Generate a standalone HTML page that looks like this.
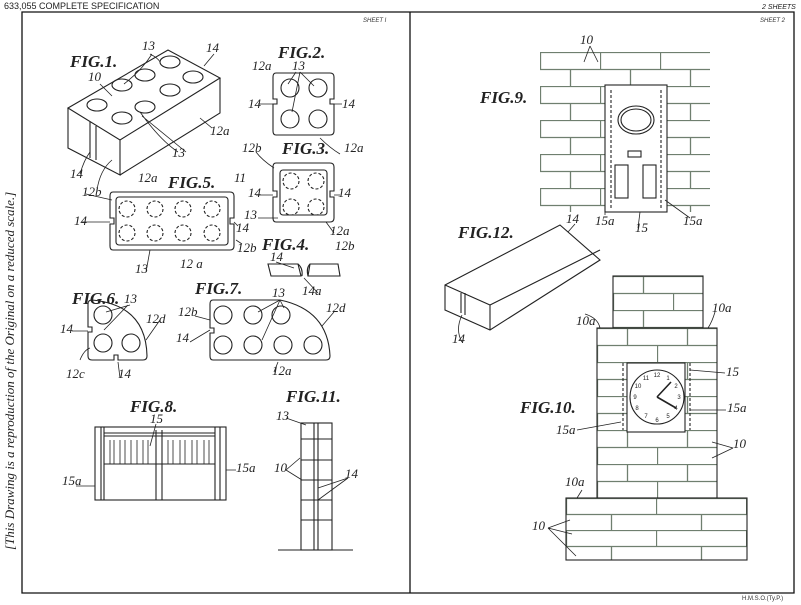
<!DOCTYPE html>
<html><head><meta charset="utf-8"><style>
html,body{margin:0;padding:0;background:#fff;}
svg{display:block}
.l{font-family:"Liberation Serif",serif;font-style:italic;font-size:13px;fill:#222}
.f{font-family:"Liberation Serif",serif;font-style:italic;font-weight:bold;font-size:17px;fill:#222}
</style></head><body>
<svg width="801" height="605" viewBox="0 0 801 605" xmlns="http://www.w3.org/2000/svg">
<defs>
<pattern id="br" x="540" y="52" width="60" height="34" patternUnits="userSpaceOnUse">
<path d="M0 0.5H60M0 17.5H60M0.5 0V17M30.5 17V34" stroke="#6f7f6f" stroke-width="1.3" fill="none"/>
</pattern>
<pattern id="brt" x="613" y="276" width="60" height="34" patternUnits="userSpaceOnUse">
<path d="M0 0.5H60M0 17.5H60M30.5 0V17M0.5 17V34" stroke="#6f7f6f" stroke-width="1.3" fill="none"/>
</pattern>
<pattern id="br2" x="597" y="328" width="60" height="34" patternUnits="userSpaceOnUse">
<path d="M0 0.5H60M0 17.5H60M30.5 0V17M0.5 17V34" stroke="#6f7f6f" stroke-width="1.3" fill="none"/>
</pattern>
<pattern id="br3" x="566" y="498" width="90" height="32" patternUnits="userSpaceOnUse">
<path d="M0 0.5H90M0 16.5H90M0.5 0V16M45.5 16V32" stroke="#6f7f6f" stroke-width="1.3" fill="none"/>
</pattern>
</defs>
<rect width="801" height="605" fill="#fff"/>
<text x="4" y="9" font-family="Liberation Sans,sans-serif" font-size="9" fill="#222">633,055   COMPLETE  SPECIFICATION</text>
<text x="762" y="9" font-family="Liberation Sans,sans-serif" font-size="7" fill="#222" font-style="italic">2 SHEETS</text>
<g fill="none" stroke="#111" stroke-width="1.3">
<path d="M22 12H794V593H22Z"/><path d="M410 12V593"/>
</g>
<text x="363" y="22" font-family="Liberation Sans,sans-serif" font-size="6" font-style="italic" fill="#333">SHEET I</text>
<text x="760" y="22" font-family="Liberation Sans,sans-serif" font-size="6" font-style="italic" fill="#333">SHEET 2</text>
<text x="742" y="600" font-family="Liberation Sans,sans-serif" font-size="6" fill="#333">H.M.S.O.(Ty.P.)</text>
<text transform="translate(14,550) rotate(-90)" class="l" font-size="12">[This Drawing is a reproduction of the Original on a reduced scale.]</text>

<g fill="none" stroke="#222" stroke-width="1.1">
<!-- Fig1 -->
<path d="M68 108L168 50L220 78L120 140Z"/>
<path d="M68 108V148L120 175V140M120 175L220 113V78"/>
<path d="M90 122V158M96 126V160"/>
<ellipse cx="97" cy="105" rx="10" ry="6"/><ellipse cx="122" cy="118" rx="10" ry="6"/>
<ellipse cx="122" cy="85" rx="10" ry="6"/><ellipse cx="145" cy="107" rx="10" ry="6"/>
<ellipse cx="145" cy="75" rx="10" ry="6"/><ellipse cx="170" cy="90" rx="10" ry="6"/>
<ellipse cx="170" cy="62" rx="10" ry="6"/><ellipse cx="193" cy="77" rx="10" ry="6"/>
<!-- Fig2 -->
<path d="M276 73H330Q334 73 334 77V99H330V104H334V131Q334 135 330 135H276Q273 135 273 131V104H277V99H273V77Q273 73 276 73Z"/>
<circle cx="290" cy="88" r="9"/><circle cx="318" cy="88" r="9"/><circle cx="290" cy="119" r="9"/><circle cx="318" cy="119" r="9"/>
<!-- Fig3 -->
<path d="M276 163H330Q334 163 334 167V191H330V197H334V218Q334 222 330 222H276Q273 222 273 218V197H277V191H273V167Q273 163 276 163Z"/>
<rect x="280" y="170" width="47" height="45" rx="3"/>
<g stroke-dasharray="3 2"><circle cx="291" cy="181" r="8"/><circle cx="316" cy="181" r="8"/><circle cx="291" cy="207" r="8"/><circle cx="316" cy="207" r="8"/></g>
<!-- Fig5 -->
<path d="M113 192H230Q234 192 234 196V218H230V224H234V246Q234 250 230 250H113Q110 250 110 246V224H114V218H110V196Q110 192 113 192Z"/>
<rect x="116" y="197" width="112" height="48" rx="3"/>
<g stroke-dasharray="3 2">
<circle cx="127" cy="209" r="8"/><circle cx="155" cy="209" r="8"/><circle cx="183" cy="209" r="8"/><circle cx="212" cy="209" r="8"/>
<circle cx="127" cy="233" r="8"/><circle cx="155" cy="233" r="8"/><circle cx="183" cy="233" r="8"/><circle cx="212" cy="233" r="8"/></g>
<!-- Fig4 -->
<path d="M268 264H298L301 276H271Z M310 264H338L340 276H308Z"/>
<path d="M298 264Q303 268 302 276M310 264Q306 268 308 276"/>
<!-- Fig6 -->
<path d="M92 300Q146 305 147 356Q147 360 143 360H118V355H114V360H92Q88 360 88 356V332H92V327H88V304Q88 300 92 300Z"/>
<circle cx="103" cy="315" r="9"/><circle cx="103" cy="343" r="9"/><circle cx="131" cy="343" r="9"/>
<!-- Fig7 -->
<path d="M213 300H280Q328 310 330 356Q330 360 326 360H213Q210 360 210 356V333H214V328H210V304Q210 300 213 300Z"/>
<circle cx="223" cy="315" r="9"/><circle cx="253" cy="315" r="9"/><circle cx="281" cy="315" r="9"/>
<circle cx="223" cy="345" r="9"/><circle cx="253" cy="345" r="9"/><circle cx="283" cy="345" r="9"/><circle cx="313" cy="345" r="9"/>
<!-- Fig8 -->
<rect x="95" y="427" width="131" height="73"/>
<path d="M101 427V500M104 427V500M215 427V500M220 427V500M156 430V500M162 430V500M104 433H215M104 436H215M104 464H215"/>
<path d="M110 440V464M114 440V464M120 440V464M125 440V464M131 440V464M137 440V464M143 440V464M148 440V464M168 440V464M173 440V464M180 440V464M185 440V464M192 440V464M197 440V464M204 440V464M209 440V464" stroke-width="0.8"/>
<!-- Fig11 -->
<rect x="301" y="423" width="31" height="127"/>
<path d="M314 423V550M318 423V550M301 439H332M301 460H332M301 480H332M301 500H332M301 520H332M278 550H353"/>
<!-- Fig12 -->
<path d="M445 285L560 225L600 260L490 330L445 310Z M445 285L490 305L600 250M490 305V330M461 293V313M465 293V315"/>
<!-- Fig9 wall -->
<rect x="540" y="52" width="170" height="160" fill="url(#br)" stroke="none"/>
<rect x="605" y="85" width="62" height="127" fill="#fff" stroke="#222"/>
<ellipse cx="636" cy="120" rx="18" ry="14"/><ellipse cx="636" cy="120" rx="15" ry="11"/>
<rect x="628" y="151" width="13" height="6"/>
<rect x="615" y="165" width="13" height="33"/><rect x="643" y="165" width="13" height="33"/>
<path d="M611 90V208M661 90V208" stroke-dasharray="3 2"/>
<!-- Fig10 tower -->
<rect x="613" y="276" width="90" height="52" fill="url(#brt)" stroke="#222"/>
<rect x="597" y="328" width="120" height="170" fill="url(#br2)" stroke="#222"/>
<rect x="566" y="498" width="181" height="62" fill="url(#br3)" stroke="#222"/>
<rect x="627" y="363" width="58" height="69" fill="#fff" stroke="#222"/>
<path d="M623 363V430M690 363V430" stroke-dasharray="3 2"/>
<circle cx="657" cy="397" r="27"/>
<path d="M657 397L671 382M657 397L676 408" stroke-width="1.6"/>
<!-- leaders -->
<path d="M150 54Q158 58 160 62M152 54Q142 70 124 84M214 54L204 66M100 84L112 96M212 128L200 118M178 152Q160 140 140 112M186 152L142 116M80 174Q84 160 90 152M97 190Q100 170 112 160M296 72L288 84M300 72L314 86M300 72L292 112M258 104H273M342 104H334M256 152Q262 160 274 168M340 154Q330 148 320 138M82 222H110M238 226L234 222M256 195H273M340 195H334M258 218H278M334 233L326 222M276 262L294 268M318 293L304 278M86 194Q94 196 112 200M242 244L236 240M146 272L150 250M128 305L104 330M130 305L106 312M160 320L146 340M72 331H88M80 360Q84 350 90 348M120 378L118 362M195 316L210 320M190 342L210 330M280 300L258 312M280 300L284 308M280 300L262 340M334 312L322 326M274 372L278 362M156 424L150 446M76 486H95M236 470H226M286 418L306 425M286 470L300 458M286 470L302 480M348 478L318 500M348 478L318 488M590 46L584 62M590 46L598 62M605 215L605 200M638 228L640 212M690 218L665 200M585 314Q598 318 600 328M715 312Q712 322 708 328M725 373L690 370M726 410L690 410M577 430L621 422M733 448L712 442M733 448L712 458M582 490L577 498M548 528L570 520M548 528L572 534M548 528L576 556M575 224L568 232M462 342Q455 330 462 315" stroke-width="0.8"/>
</g>
<g font-family="Liberation Sans,sans-serif" font-size="6" fill="#222" text-anchor="middle">
<text x="657" y="377">12</text><text x="668" y="380">1</text><text x="676" y="388">2</text><text x="679" y="399">3</text><text x="676" y="410">4</text><text x="668" y="418">5</text><text x="657" y="422">6</text><text x="646" y="418">7</text><text x="637" y="410">8</text><text x="635" y="399">9</text><text x="638" y="388">10</text><text x="646" y="380">11</text>
</g>
<g class="f">
<text x="70" y="67">FIG.1.</text><text x="278" y="58">FIG.2.</text><text x="282" y="154">FIG.3.</text>
<text x="168" y="188">FIG.5.</text><text x="262" y="250">FIG.4.</text><text x="72" y="304">FIG.6.</text>
<text x="195" y="294">FIG.7.</text><text x="130" y="412">FIG.8.</text><text x="286" y="402">FIG.11.</text>
<text x="480" y="103">FIG.9.</text><text x="458" y="238">FIG.12.</text><text x="520" y="413">FIG.10.</text>
</g>
<g class="l">
<text x="142" y="50">13</text><text x="206" y="52">14</text><text x="88" y="81">10</text><text x="210" y="135">12a</text>
<text x="172" y="157">13</text><text x="70" y="178">14</text><text x="82" y="196">12b</text>
<text x="138" y="182">12a</text><text x="234" y="182">11</text><text x="74" y="225">14</text><text x="236" y="232">14</text>
<text x="237" y="252">12b</text><text x="135" y="273">13</text><text x="180" y="268">12 a</text>
<text x="252" y="70">12a</text><text x="292" y="70">13</text><text x="248" y="108">14</text><text x="342" y="108">14</text>
<text x="242" y="152">12b</text><text x="344" y="152">12a</text><text x="248" y="197">14</text><text x="338" y="197">14</text>
<text x="244" y="219">13</text><text x="330" y="235">12a</text><text x="270" y="261">14</text><text x="335" y="250">12b</text><text x="302" y="295">14a</text>
<text x="124" y="303">13</text><text x="146" y="323">12d</text><text x="60" y="333">14</text><text x="66" y="378">12c</text><text x="118" y="378">14</text>
<text x="178" y="316">12b</text><text x="272" y="297">13</text><text x="326" y="312">12d</text><text x="176" y="342">14</text><text x="272" y="375">12a</text>
<text x="150" y="423">15</text><text x="62" y="485">15a</text><text x="236" y="472">15a</text>
<text x="276" y="420">13</text><text x="274" y="472">10</text><text x="345" y="478">14</text>
<text x="580" y="44">10</text><text x="595" y="225">15a</text><text x="635" y="232">15</text><text x="683" y="225">15a</text>
<text x="566" y="223">14</text><text x="452" y="343">14</text>
<text x="576" y="325">10a</text><text x="712" y="312">10a</text><text x="726" y="376">15</text><text x="727" y="412">15a</text>
<text x="556" y="434">15a</text><text x="733" y="448">10</text><text x="565" y="486">10a</text><text x="532" y="530">10</text>
</g>
</svg>
</body></html>
